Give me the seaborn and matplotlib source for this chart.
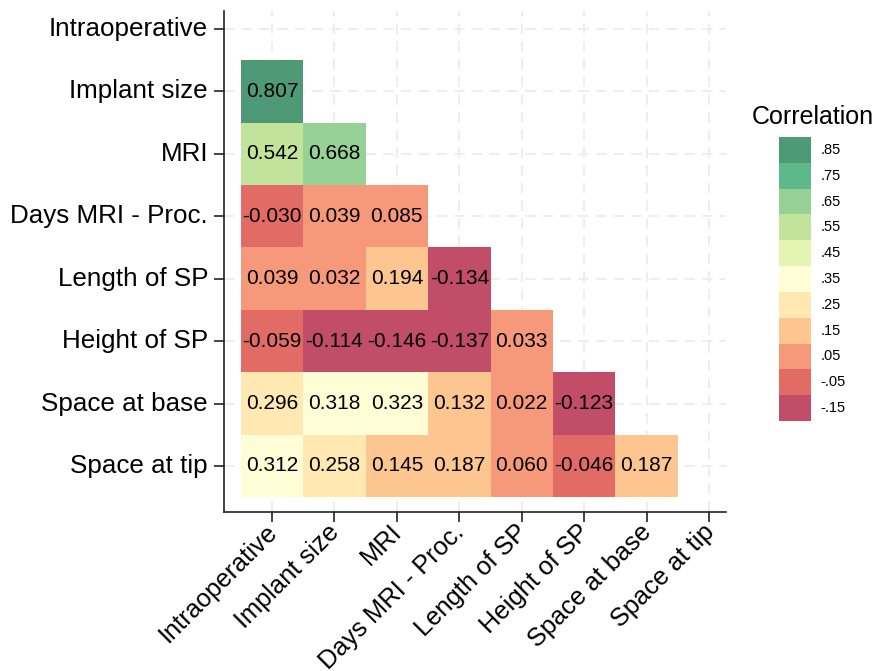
import numpy as np
import pandas as pd
import matplotlib
matplotlib.use("Agg")
import matplotlib.pyplot as plt
import matplotlib.transforms as mtransforms
from matplotlib.colors import ListedColormap, BoundaryNorm
import seaborn as sns

variables = ["Intraoperative", "Implant size", "MRI", "Days MRI - Proc.",
             "Length of SP", "Height of SP", "Space at base", "Space at tip"]

row_implant = [0.807]
row_mri = [0.542, 0.668]
row_days = [-0.030, 0.039, 0.085]
row_length = [0.039, 0.032, 0.194, -0.134]
row_height = [-0.059, -0.114, -0.146, -0.137, 0.033]
row_base = [0.296, 0.318, 0.323, 0.132, 0.022, -0.123]
row_tip = [0.312, 0.258, 0.145, 0.187, 0.060, -0.046, 0.187]

legend_labels = [".85", ".75", ".65", ".55", ".45", ".35", ".25", ".15", ".05", "-.05", "-.15"]
legend_colors = ["#4E9A77", "#5DB98A", "#96D195", "#C2E49A", "#E3F4B3", "#FFFDD5",
                 "#FFE8B1", "#FDC690", "#F6997A", "#E26B66", "#C14D68"]
bin_edges = [-0.2, -0.1, 0.0, 0.1, 0.2, 0.3, 0.4, 0.5, 0.6, 0.7, 0.8, 0.9]

rows = [[], row_implant, row_mri, row_days, row_length, row_height, row_base, row_tip]
n = len(variables)
mat = np.full((n, n), np.nan)
for i, r in enumerate(rows):
    for j, v in enumerate(r):
        mat[i, j] = v
df = pd.DataFrame(mat, index=variables, columns=variables)

cmap = ListedColormap(legend_colors[::-1])
norm = BoundaryNorm(bin_edges, cmap.N)

plt.rcParams['font.family'] = ['Liberation Sans', 'DejaVu Sans']
fig = plt.figure(figsize=(8.77, 6.71), dpi=100)
ax = fig.add_axes([224/877, 1-512/671, (726-224)/877, (512-11)/671])
ax.set_axisbelow(True)

sns.heatmap(df, mask=df.isna(), cmap=cmap, norm=norm, annot=True, fmt=".3f",
            annot_kws={"color": "black", "fontsize": 15}, cbar=False, ax=ax,
            linewidths=0)

ax.set_xlim(-0.269, 7.772)
ax.set_ylim(8.237, 0.212)
ax.set_xlabel("")
ax.set_ylabel("")
ax.set_xticks(np.arange(n) + 0.5)
ax.set_yticks(np.arange(n) + 0.5)
ax.set_xticklabels(variables, rotation=45, ha="right", va="top",
                   rotation_mode="anchor", fontsize=18.3)
ax.set_yticklabels(variables, rotation=0, fontsize=18.7)
ax.grid(True, color="#EEEEEE", linestyle=(0, (5, 3.5)), linewidth=1.5)
for s in ["top", "right"]:
    ax.spines[s].set_visible(False)
for s in ["left", "bottom"]:
    ax.spines[s].set_visible(True)
    ax.spines[s].set_color("#222222")
    ax.spines[s].set_linewidth(1.2)
ax.tick_params(axis="both", length=7, width=1.2, color="#222222", labelcolor="black")
ax.tick_params(axis="y", pad=4.5)
ax.tick_params(axis="x", pad=3)
offset = mtransforms.ScaledTranslation(-7/100, 6/100, fig.dpi_scale_trans)
for lab in ax.get_xticklabels():
    lab.set_transform(lab.get_transform() + offset)

# legend
lax = fig.add_axes([779/877, 1-421/671, 32/877, 284/671])
nb = len(legend_colors)
for k, c in enumerate(legend_colors):
    lax.add_patch(plt.Rectangle((0, nb - 1 - k), 1, 1, color=c, lw=0))
lax.set_xlim(0, 1)
lax.set_ylim(0, nb)
lax.set_xticks([])
lax.set_yticks([])
for s in lax.spines.values():
    s.set_visible(False)
for k, lab in enumerate(legend_labels):
    lax.text(1.3, nb - 0.5 - k, lab, va="center", ha="left", fontsize=10.5,
             transform=lax.transData)
fig.text(813/877, 1-117/671, "Correlation", ha="center", va="center", fontsize=18)

fig.savefig("out.png", dpi=100)
